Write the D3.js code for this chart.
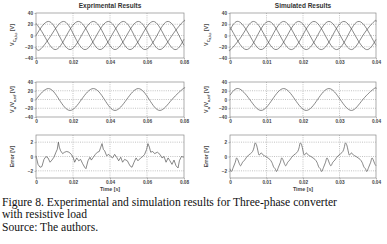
<!DOCTYPE html>
<html>
<head>
<meta charset="utf-8">
<script src="https://cdn.jsdelivr.net/npm/d3@7"></script>
<style>
body { margin: 0; background: #fff; }
svg { display: block; }
.frame { fill: none; stroke: #8a8a8a; stroke-width: 0.7; }
.grid line { stroke: #9a9a9a; stroke-width: 0.6; stroke-dasharray: 1 1.2; }
.tick text { font-family: Arial, "Liberation Sans", sans-serif; font-weight: bold; font-size: 4.7px; fill: #444; }
.curve { fill: none; stroke: #555; stroke-width: 0.7; }
.title { font-family: Arial, "Liberation Sans", sans-serif; font-weight: bold; font-size: 6.5px; fill: #333; }
.ylab, .xlab { font-family: Arial, "Liberation Sans", sans-serif; font-weight: bold; font-size: 5.3px; fill: #444; }
.caption { font-family: "Liberation Serif", "Times New Roman", serif; font-size: 11.6px; fill: #111; }
</style>
</head>
<body>
<div id="chart"></div>
<script>
// time in ms, voltages in V

// tick labels
var xTicksLeft = [0, 20, 40, 60, 80], xLabelsLeft = ["0", "0.02", "0.04", "0.06", "0.08"];
var xTicksRight = [0, 10, 20, 30, 40], xLabelsRight = ["0", "0.01", "0.02", "0.03", "0.04"];
var yTicksV = [-40, -20, 0, 20, 40];
var yTicksErr = [-2, 0, 2];

var expA_t = [0, 6.7, 12.5, 18.4, 24.6, 31.0, 37.0, 42.7, 49.0, 55.3, 61.2, 67.0, 73.5, 79.6, 80];
var expA_v = [0, 25, 0, -25, 0, 25, 0, -25, 0, 25, 0, -25, 0, 25, 24.9];
var expB_t = [0, 2.2, 8.1, 14.8, 20.6, 26.5, 32.7, 39.1, 45.1, 50.8, 57.1, 63.4, 69.3, 75.1, 80];
var expB_v = [-21.7, -25, 0, 25, 0, -25, 0, 25, 0, -25, 0, 25, 0, -25, -6.5];
var expC_t = [0, 4.4, 10.3, 16.5, 22.9, 28.9, 34.6, 40.9, 47.2, 53.1, 58.9, 65.4, 71.5, 77.3, 80];
var expC_v = [21.7, 0, -25, 0, 25, 0, -25, 0, 25, 0, -25, 0, 25, 0, -17.7];

// simulated phase voltages
var simA_t = [0, 2.3, 5.4, 8.5, 11.6, 14.7, 17.8, 20.9, 24.0, 27.1, 30.2, 33.3, 36.4, 39.5, 40];
var simA_v = [9.8, 25, 0, -25, 0, 25, 0, -25, 0, 25, 0, -25, 0, 25, 24.3];
var simB_t = [0, 0.2, 3.3, 6.4, 9.5, 12.6, 15.7, 18.8, 21.9, 25.0, 28.1, 31.2, 34.3, 37.4, 40];
var simB_v = [-24.8, -25, 0, 25, 0, -25, 0, 25, 0, -25, 0, 25, 0, -25, -6.9];
var simC_t = [0, 1.3, 4.4, 7.5, 10.6, 13.7, 16.8, 19.9, 23.0, 26.1, 29.2, 32.3, 35.4, 38.5, 40];
var simC_v = [15, 0, -25, 0, 25, 0, -25, 0, 25, 0, -25, 0, 25, 0, -17.4];

// experimental error
var errExp_t = [0, 1.1, 2.2, 3.2, 4.3, 5.4, 6.5, 7.6, 8.6, 9.7, 10.8, 11.5, 12.1, 12.6, 13.3, 14.4, 15.5, 16.6, 17.8, 19.1,
  20.2, 20.9, 22.0, 23.1, 24.1, 25.2, 26.3, 27.0, 28.1, 29.2, 29.9, 31.0, 32.1, 33.2, 34.2, 35.0, 35.7, 36.4, 37.1, 38.2,
  39.3, 40.4, 41.4, 42.5, 43.6, 44.7, 45.8, 46.8, 47.9, 49.4, 50.8, 51.9, 53.0, 54.1, 55.1, 56.6, 57.7, 58.7, 59.8, 60.5,
  61.3, 62.0, 63.1, 64.1, 65.6, 67.0, 68.1, 69.2, 70.3, 71.4, 72.4, 73.5, 74.6, 75.7, 76.8, 77.5, 78.6, 80];
var errExp_v = [0.1, -1.1, -1.5, -1.4, -0.4, 0, -0.2, -0.8, -0.5, -0.1, 0.6, 1.0, 2.0, 1.3, 0.8, 0.4, 0.6, 0.7, 0.6, 0.3,
  -0.2, -0.8, -0.2, -0.6, -0.4, -1.0, -1.5, -1.7, -0.6, -0.1, -0.5, -0.1, 0.3, 0.6, 0.7, 1.3, 1.8, 1.0, 0.8, 0.1,
  0.3, 0, -0.2, 0.3, -0.1, -0.6, -0.1, -0.8, -0.4, -0.6, -1.3, -1.5, -0.8, -0.2, -0.6, -0.2, 0, 0.3, 1.0, 1.8,
  1.3, 0.6, 0.7, 0.4, 0.6, 0.3, -0.2, 0, -0.8, -0.2, -0.6, -1.1, -0.5, -1.3, -1.6, -0.6, 0, -0.1];

// simulated error
var errSim_t = [0, 0.36, 0.91, 1.45, 1.82, 2.18, 2.55, 2.91, 3.45, 4.0, 4.55, 5.09, 5.64, 6.18, 6.55, 6.91, 7.27, 7.64, 8.0, 8.55,
  9.09, 9.82, 10.36, 10.91, 11.45, 12.0, 12.36, 12.73, 13.27, 13.82, 14.18, 14.55, 14.91, 15.27, 15.82, 16.36, 16.91, 17.45, 18.0, 18.55,
  18.91, 19.27, 19.64, 20.0, 20.36, 20.91, 21.45, 22.18, 22.73, 23.27, 23.82, 24.36, 24.73, 25.09, 25.64, 26.18, 26.55, 26.91, 27.27, 27.64,
  28.18, 28.73, 29.27, 29.82, 30.36, 30.91, 31.27, 31.64, 32.0, 32.36, 32.73, 33.27, 33.82, 34.55, 35.09, 35.64, 36.18, 36.73, 37.09, 37.45,
  38.0, 38.55, 38.91, 39.27, 39.64, 40.0];
var errSim_v = [-1.7, -2.1, -1.5, -0.8, -0.2, -0.5, -1.0, -1.3, -0.8, -0.5, -0.1, 0.2, 0.4, 0.7, 1.2, 1.9, 1.6, 0.8, 0.2, 0.5,
  0.2, 0, -0.2, -0.4, -0.8, -1.5, -1.7, -2.1, -1.5, -0.8, -0.2, -0.5, -1.0, -1.3, -0.8, -0.5, -0.1, 0.2, 0.4, 0.7,
  1.2, 1.9, 1.6, 0.8, 0.2, 0.5, 0.2, 0, -0.2, -0.4, -0.8, -1.5, -1.7, -2.1, -1.5, -0.8, -0.2, -0.5, -1.0, -1.3,
  -0.8, -0.5, -0.1, 0.2, 0.4, 0.7, 1.2, 1.9, 1.6, 0.8, 0.2, 0.5, 0.2, 0, -0.2, -0.4, -0.8, -1.5, -1.7, -2.1,
  -1.5, -0.8, -0.2, -0.5, -1.0, -1.3];

var W = 387, H = 244;
var svg = d3.select('#chart').append('svg').attr('width', W).attr('height', H);

function zip(t, v) { return t.map(function(d, i) { return [d, v[i]]; }); }

// one small plot
function panel(p) {
    var x = d3.scaleLinear().domain(p.xDomain).range([p.x0, p.x1]);
    var y = d3.scaleLinear().domain(p.yDomain).range([p.y1, p.y0]);

    var g = svg.append('g');

    // dotted grid
    var grid = g.append('g').attr('class', 'grid');
    grid.selectAll('.gx').data(p.xTicks.slice(1, -1)).enter().append('line')
        .attr('x1', function(d) { return x(d); }).attr('x2', function(d) { return x(d); })
        .attr('y1', p.y0).attr('y2', p.y1);
    grid.selectAll('.gy').data(p.yTicks.filter(function(d) { return d > p.yDomain[0] && d < p.yDomain[1]; })).enter().append('line')
        .attr('y1', function(d) { return y(d); }).attr('y2', function(d) { return y(d); })
        .attr('x1', p.x0).attr('x2', p.x1);

    // axes
    var axX = d3.axisBottom(x).tickValues(p.xTicks).tickSize(1.5).tickPadding(1)
        .tickFormat(function(d, i) { return p.xLabels[i]; });
    var axY = d3.axisLeft(y).tickValues(p.yTicks).tickSize(1.5).tickPadding(1.5).tickFormat(d3.format('d'));
    var gx = g.append('g').attr('transform', 'translate(0,' + p.y1 + ')').call(axX);
    var gy = g.append('g').attr('transform', 'translate(' + p.x0 + ',0)').call(axY);
    [gx, gy].forEach(function(a) {
        a.select('.domain').remove();
        a.selectAll('.tick line').attr('stroke', '#8a8a8a').attr('stroke-width', 0.6);
        a.selectAll('.tick text').attr('font-size', null).attr('font-family', null).attr('fill', null);
    });

    var line = d3.line().x(function(d) { return x(d[0]); }).y(function(d) { return y(d[1]); })
        .curve(p.curve || d3.curveLinear);
    p.series.forEach(function(s) {
        g.append('path').datum(s).attr('class', 'curve').attr('d', line);
    });

    g.append('rect').attr('class', 'frame')
        .attr('x', p.x0).attr('y', p.y0).attr('width', p.x1 - p.x0).attr('height', p.y1 - p.y0);
    return g;
}

var L = {x0: 36, x1: 184}, R = {x0: 230, x1: 376};
var rowTop = {y0: 13, y1: 58}, rowMid = {y0: 82, y1: 117}, rowBot = {y0: 135, y1: 178};

function opts(col, row, o) { return Object.assign({}, col, row, o); }

panel(opts(L, rowTop, {xDomain: [0, 80], yDomain: [-40, 40], xTicks: xTicksLeft, xLabels: xLabelsLeft, yTicks: yTicksV,
    curve: d3.curveNatural, series: [zip(expA_t, expA_v), zip(expB_t, expB_v), zip(expC_t, expC_v)]}));
panel(opts(R, rowTop, {xDomain: [0, 40], yDomain: [-40, 40], xTicks: xTicksRight, xLabels: xLabelsRight, yTicks: yTicksV,
    curve: d3.curveNatural, series: [zip(simA_t, simA_v), zip(simB_t, simB_v), zip(simC_t, simC_v)]}));
panel(opts(L, rowMid, {xDomain: [0, 80], yDomain: [-40, 40], xTicks: xTicksLeft, xLabels: xLabelsLeft, yTicks: yTicksV,
    curve: d3.curveNatural, series: [zip(expA_t, expA_v)]}));
panel(opts(R, rowMid, {xDomain: [0, 40], yDomain: [-40, 40], xTicks: xTicksRight, xLabels: xLabelsRight, yTicks: yTicksV,
    curve: d3.curveNatural, series: [zip(simA_t, simA_v)]}));
panel(opts(L, rowBot, {xDomain: [0, 80], yDomain: [-3, 3], xTicks: xTicksLeft, xLabels: xLabelsLeft, yTicks: yTicksErr,
    series: [zip(errExp_t, errExp_v)]}));
panel(opts(R, rowBot, {xDomain: [0, 40], yDomain: [-3, 3], xTicks: xTicksRight, xLabels: xLabelsRight, yTicks: yTicksErr,
    curve: d3.curveCatmullRom, series: [zip(errSim_t, errSim_v)]}));

// titles
svg.append('text').attr('class', 'title').attr('x', 110).attr('y', 8).attr('text-anchor', 'middle').text('Exprimental Results');
svg.append('text').attr('class', 'title').attr('x', 303).attr('y', 8).attr('text-anchor', 'middle').text('Simulated Results');

// y labels (rotated, with subscripts)
function ylabel(cx, cy, parts) {
    var t = svg.append('text').attr('class', 'ylab').attr('text-anchor', 'middle')
        .attr('transform', 'translate(' + cx + ',' + cy + ') rotate(-90)');
    parts.forEach(function(p) {
        var s = t.append('tspan').text(p[0]);
        if (p[1]) s.attr('font-size', p[1] + 'px');
        if (p[2]) s.attr('baseline-shift', p[2]);
    });
}
[14, 208].forEach(function(cx) {
    ylabel(cx, 35, [['V'], ['C', 4, '-1.5'], ['a,b,c', 3, '-2.5'], [' [V]', 5.3, '0']]);
    ylabel(cx, 99.5, [['V'], ['a', 4, '-1.5'], ['/V', 5.3, '0'], ['a,ref', 3.5, '-1.5'], [' [V]', 5.3, '0']]);
    ylabel(cx, 156.5, [['Error [V]']]);
});

svg.append('text').attr('class', 'xlab').attr('x', 110).attr('y', 190.5).attr('text-anchor', 'middle').text('Time [s]');
svg.append('text').attr('class', 'xlab').attr('x', 303).attr('y', 190.5).attr('text-anchor', 'middle').text('Time [s]');

// caption
var caption = ['Figure 8. Experimental and simulation results for Three-phase converter',
    'with resistive load', 'Source: The authors.'];
svg.selectAll('.caption').data(caption).enter().append('text').attr('class', 'caption')
    .attr('x', 2).attr('y', function(d, i) { return 205.5 + i * 12.9; }).text(function(d) { return d; });
</script>
</body>
</html>
